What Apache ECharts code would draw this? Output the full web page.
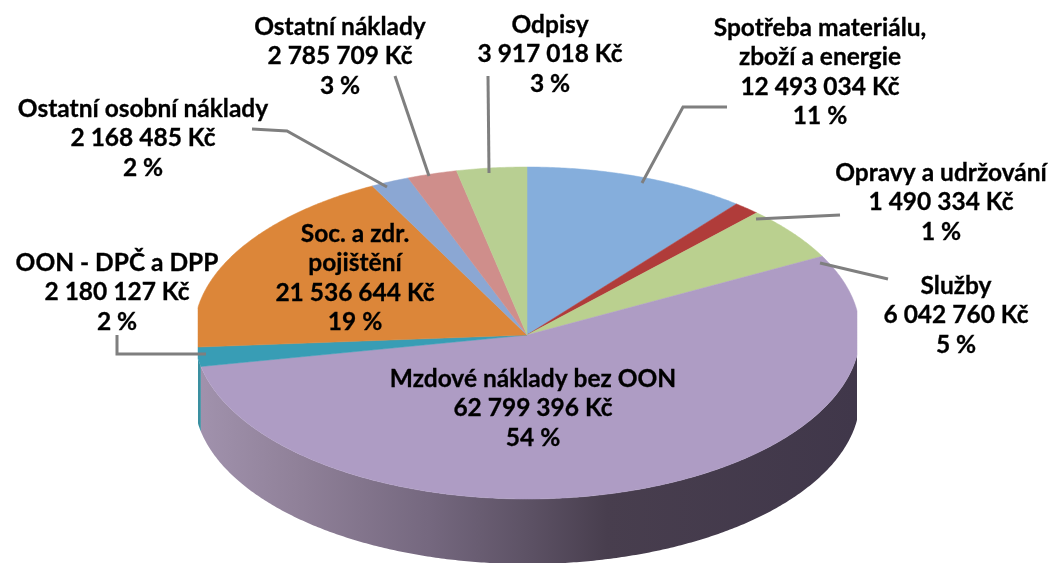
<!DOCTYPE html>
<html><head><meta charset="utf-8">
<style>html,body{margin:0;padding:0;background:#fff}#c{width:1052px;height:563px}</style>
<script src="https://cdn.jsdelivr.net/npm/echarts@6/dist/echarts.min.js"></script>
</head><body><div id="c"></div>
<script>
const categories = [
  ['Spotřeba materiálu,','zboží a energie'],
  ['Opravy a udržování'],
  ['Služby'],
  ['Mzdové náklady bez OON'],
  ['OON - DPČ a DPP'],
  ['Soc. a zdr.','pojištění'],
  ['Ostatní osobní náklady'],
  ['Ostatní náklady'],
  ['Odpisy']
];
const amounts = [12493034,1490334,6042760,62799396,2180127,21536644,2168485,2785709,3917018];
const percents = [11,1,5,54,2,19,2,3,3];
const colors = ['#85aedc','#b03c3a','#bad08f','#ae9cc4','#389db5','#dc8639','#8ba7d3','#cf8e8b','#b8cf92'];
const sideColors = {3:null,4:'#3a8fa0'};
// layout (pixels)
const C = {x:527,y:333,apexY:335,rx:333,ry:166,depth:65,xMin:198,xMax:857};
const labelPos = [[820,13],[941,158],[956,271],[533,364],[117,248],[355,219],[143,94],[340,12],[550,10]];
const leaders = [
  [[727,107],[683,107],[642,183]],
  [[840,215],[756,219]],
  [[888,279],[820,263]],
  null,
  [[117,335],[117,354],[206,354]],
  null,
  [[252,129],[287,131],[387,187]],
  [[395,76],[429,176]],
  [[488,76],[489,173]]
];
const total = amounts.reduce((a,b)=>a+b,0);
const fmt = v => String(v).replace(/\B(?=(\d{3})+$)/g,' ');
function pt(deg,dy){
  const r = deg*Math.PI/180;
  const x = C.x + C.rx*Math.sin(r), y = C.y - C.ry*Math.cos(r) + (dy||0);
  return [Math.max(C.xMin,Math.min(C.xMax,x)), y];
}
function arc(a0,a1,dy){
  const n = Math.max(2,Math.ceil((a1-a0)/0.5)), out=[];
  for(let i=0;i<=n;i++) out.push(pt(a0+(a1-a0)*i/n,dy));
  return out;
}
const sideGradient = new echarts.graphic.LinearGradient(C.xMin,0,C.xMax,0,[
  {offset:0,color:'#a192ad'},
  {offset:0.15,color:'#908199'},
  {offset:0.35,color:'#75687f'},
  {offset:0.5,color:'#5d5265'},
  {offset:0.62,color:'#483e4e'},
  {offset:1,color:'#40374a'}
],true);
const data = amounts.map((v,i)=>[i,v]);
const option = {
  animation:false,
  backgroundColor:'#fff',
  series:[{
    type:'custom',
    coordinateSystem:'none',
    data,
    renderItem(params,api){
      const i = api.value(0);
      let before = 0;
      for(let k=0;k<i;k++) before += amounts[k];
      const a0 = before/total*360, a1 = (before+api.value(1))/total*360;
      const children = [];
      const s0 = Math.max(a0,90), s1 = Math.min(a1,270);
      if(s1>s0){
        const top = arc(s0,s1,0), bot = arc(s0,s1,C.depth).reverse();
        children.push({type:'polygon',z2:1,shape:{points:top.concat(bot)},
          style:{fill:i===3?sideGradient:sideColors[i]||colors[i]}});
      }
      const pts = [[C.x,C.apexY]].concat(arc(a0,a1,0));
      children.push({type:'polygon',z2:2,shape:{points:pts},style:{fill:colors[i],stroke:colors[i],lineWidth:0.5}});
      if(leaders[i]) children.push({type:'polyline',z2:3,shape:{points:leaders[i]},
        style:{fill:null,stroke:'#7f7f7f',lineWidth:3}});
      const lines = categories[i].concat([fmt(api.value(1))+' Kč',percents[i]+' %']);
      children.push({type:'text',z2:4,x:labelPos[i][0],y:labelPos[i][1],
        style:{text:lines.join('\n'),fill:'#000',align:'center',verticalAlign:'top',
          font:'700 24.5px Lato',lineHeight:29.5,stroke:'#000',lineWidth:0.3}});
      return {type:'group',children};
    }
  }]
};
echarts.init(document.getElementById('c'),null,{renderer:'canvas'}).setOption(option);
</script></body></html>
